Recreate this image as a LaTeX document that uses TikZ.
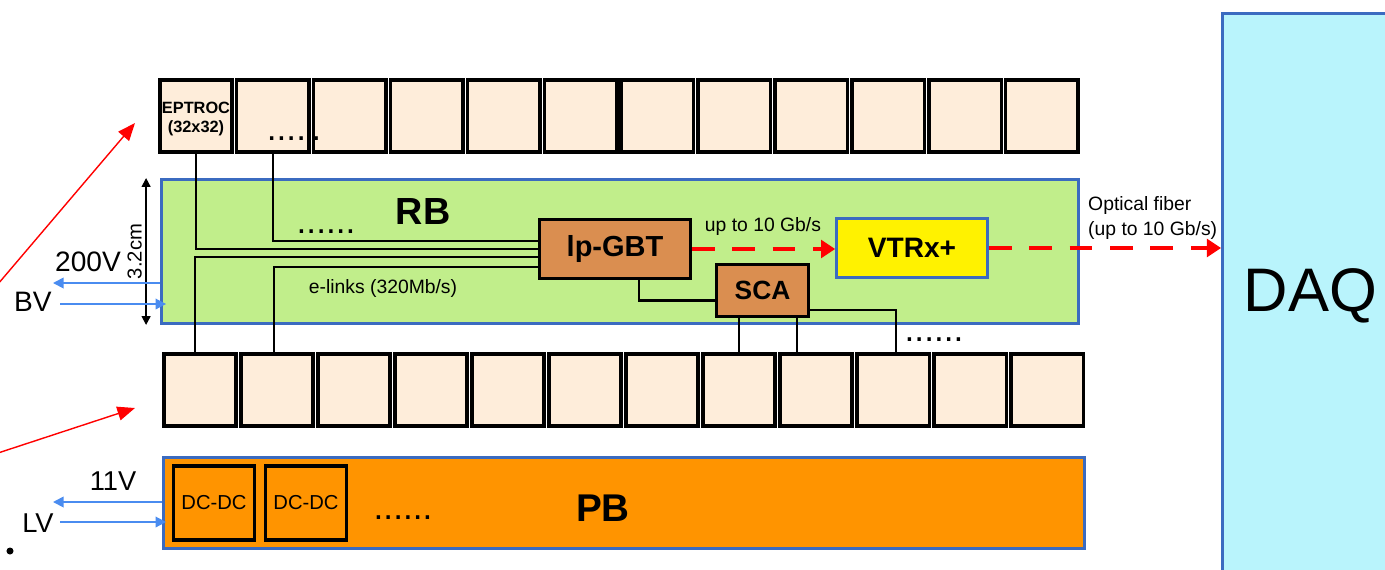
\documentclass[tikz,border=0pt]{standalone}
\usepackage{fontspec}
\setmainfont{Liberation Sans}
\usetikzlibrary{arrows.meta,calc}

\definecolor{cellfill}{RGB}{254,237,218}
\definecolor{rbgreen}{RGB}{193,238,139}
\definecolor{pborange}{RGB}{255,148,0}
\definecolor{chipbrown}{RGB}{218,142,80}
\definecolor{daqcyan}{RGB}{185,244,252}
\definecolor{edgeblue}{RGB}{59,107,192}
\definecolor{pwrblue}{RGB}{74,140,240}

\newcommand{\fsz}[2]{\fontsize{#1}{#2}\selectfont}

\tikzset{
  cell/.style={draw=black, line width=2pt, fill=cellfill, minimum width=1.45cm, minimum height=1.45cm, inner sep=0pt},
  board/.style={draw=edgeblue, line width=1.7pt, inner sep=0pt},
  chip/.style={draw=black, line width=1.5pt, fill=chipbrown, inner sep=0pt},
  dcdc/.style={draw=black, line width=2pt, minimum width=1.62cm, minimum height=1.48cm, inner sep=0pt, font=\fsz{11.5}{14}},
  wire/.style={line width=1.3pt},
  fiber/.style={red, line width=2.8pt, dash pattern=on 13pt off 10pt, -{Triangle[length=8pt,width=10pt]}},
  power/.style={pwrblue, line width=1pt, -{Triangle[length=6pt,width=6pt]}},
  pointer/.style={red, line width=0.8pt, -{Triangle[length=10pt,width=8pt]}},
  dots/.style={font=\fsz{20}{20}, inner sep=0pt},
}

\begin{document}
\begin{tikzpicture}[x=0.02cm, y=-0.02cm]
    \useasboundingbox (0,0) rectangle (1385,569);
    \clip (0,0) rectangle (1385,569);

    % Boards
    \node[board, fill=rbgreen, minimum width=18.34cm, minimum height=2.88cm] (rb) at (620,251.5) {};
    \node[font=\fsz{21.5}{25}\bfseries] (rblabel) at (423,211) {RB};
    \node[board, fill=pborange, minimum width=18.42cm, minimum height=1.82cm] (pb) at (624,503) {};
    \node[font=\fsz{22}{26}\bfseries] (pblabel) at (603,508) {PB};
    \node[board, fill=daqcyan, minimum width=3.52cm, minimum height=11.3cm, font=\fsz{35}{40}] (daq) at (1310.5,296) {DAQ};

    % Sensor cells, top and bottom rows
    \foreach \i in {0,...,11} {
        \node[cell] (t\i) at ({196+76.9*\i},116) {};
        \node[cell] (b\i) at ({200+77*\i},390) {};
    }
    \node[font=\fsz{9.3}{10.5}\bfseries, align=center] (eptroc) at ($(t0)+(0,3)$) {EPTROC\\(32x32)};
    \node[dots] (tdots) at (294,139) {....\hspace{3pt}.};

    % Chips on RB
    \node[chip, minimum width=3.02cm, minimum height=1.18cm, font=\fsz{16.5}{20}\bfseries] (lpgbt) at (615,249) {lp-GBT};
    \node[chip, minimum width=1.84cm, minimum height=1.04cm, font=\fsz{15}{18}\bfseries] (sca) at (762.5,290.5) {SCA};
    \node[draw=edgeblue, line width=1.5pt, fill=yellow, minimum width=3.02cm, minimum height=1.18cm, font=\fsz{16}{19}\bfseries] (vtrx) at (912,248) {VTRx+};

    % DC-DC converters on PB
    \node[dcdc] (dc1) at (214,503) {DC-DC};
    \node[dcdc] (dc2) at (306,503) {DC-DC};
    \node[dots] (pbdots) at (403,518) {......};

    % e-links
    \draw[wire] (t0.south) |- (lpgbt.west);
    \draw[wire] (t1.south) |- ($(lpgbt.west)+(0,-8)$);
    \draw[wire] ($(b0.north)+(-5,0)$) |- ($(lpgbt.west)+(0,8)$);
    \draw[wire] ($(b1.north)+(-3,0)$) |- ($(lpgbt.west)+(0,18)$);
    \node[dots] (rbdots) at (326,232) {......};
    \node[font=\fsz{11}{13}] (elinks) at (383,288) {e-links (320Mb/s)};

    % slow control
    \draw[wire] ($(lpgbt.south)+(24,0)$) |- ($(sca.west)+(0,10)$);
    \draw[wire] ($(sca.south)+(-23.5,0)$) coordinate (s1) -- (s1 |- b7.north);
    \draw[wire] ($(sca.south)+(34.5,0)$) coordinate (s2) -- (s2 |- b8.north);
    \draw[wire] ($(sca.east)+(0,19.5)$) -| ($(b9.north)+(3,0)$);
    \node[dots] (bdots) at (934,340) {......};

    % data links
    \draw[fiber] (lpgbt.east) -- (lpgbt.east -| vtrx.west);
    \node[font=\fsz{11}{13}] (rate) at (763,226) {up to 10 Gb/s};
    \draw[fiber] (vtrx.east) -- (vtrx.east -| daq.west);
    \node[font=\fsz{11}{14}, align=left, anchor=west] (optic) at (1082,218) {Optical fiber\\(up to 10 Gb/s)};

    % RB height
    \draw[{Triangle[length=5pt,width=5pt]}-{Triangle[length=5pt,width=5pt]}, line width=0.9pt]
        ($(rb.north west)+(-14,0)$) -- ($(rb.south west)+(-14,0)$)
        node[midway, rotate=90, anchor=south, inner sep=2pt, font=\fsz{11.5}{13}] (dimlabel) {3.2cm};

    % bias and low voltage
    \coordinate (bvout) at (53,283);
    \coordinate (bvin) at (60,304);
    \draw[power] (rb.west |- bvout) -- (bvout);
    \draw[power] (bvin) -- ($(bvin -| rb.west)+(6,0)$);
    \node[font=\fsz{16}{19}] (hvlabel) at (88,262) {200V};
    \node[font=\fsz{16}{19}] (bvlabel) at (33,302) {BV};
    \coordinate (lvout) at (53,502);
    \coordinate (lvin) at (60,522);
    \draw[power] (pb.west |- lvout) -- (lvout);
    \draw[power] (lvin) -- ($(lvin -| pb.west)+(4,0)$);
    \node[font=\fsz{15.5}{18}] (lvvalue) at (113,481) {11V};
    \node[font=\fsz{15.5}{18}] (lvlabel) at (38,523) {LV};

    % pointers from the left
    \coordinate (p1s) at (-2,284);
    \coordinate (p1e) at (135,123);
    \coordinate (p2s) at (-2,453);
    \coordinate (p2e) at (135,408);
    \draw[pointer] (p1s) -- (p1e);
    \draw[pointer] (p2s) -- (p2e);
    \fill (10,551) circle (2pt);
\end{tikzpicture}
\end{document}
